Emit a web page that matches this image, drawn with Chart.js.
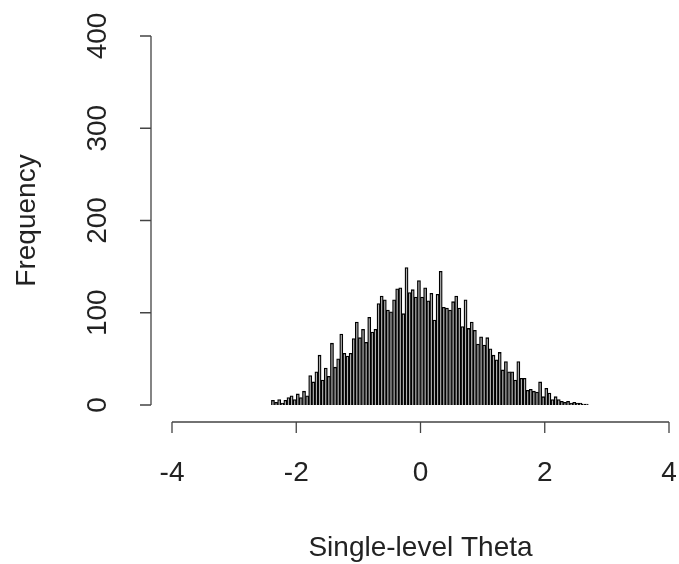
<!DOCTYPE html>
<html><head><meta charset="utf-8">
<script src="https://cdn.jsdelivr.net/npm/chart.js@4"></script>
<style>html,body{margin:0;padding:0;background:#fff}#wrap{width:679px;height:564px;position:relative}</style>
</head><body><div id="wrap"><canvas id="c" width="679" height="564"></canvas></div>
<script>
const binStart = -2.4;
const binWidth = 0.05;
const counts = [5,3,6,2,5,8,10,6,12,8,15,10,
32,25,36,54,27,40,31,67,41,50,77,56,53,56,72,90,
73,82,68,95,79,82,110,118,114,103,101,114,126,127,99,149,
122,125,117,135,117,127,113,121,92,120,145,106,105,103,
112,118,105,85,114,83,90,81,66,74,65,73,61,54,49,
57,38,47,36,36,27,47,29,29,16,17,15,14,25,
9,18,13,6,9,6,4,3,4,2,3,2,2,1,1];
const xTicks = [-4,-2,0,2,4];
const yTicks = [0,100,200,300,400];
const xTitle = "Single-level Theta";
const yTitle = "Frequency";

const points = counts.map((c,i)=>({x: binStart + binWidth*(i+0.5), y: c}));

const FONT = '28px "Liberation Sans", Arial, sans-serif';
const INK = '#222';
const rAxes = {
  id:'rAxes',
  afterDraw(chart){
    const ctx = chart.ctx, xs = chart.scales.x, ys = chart.scales.y;
    ctx.save();
    ctx.strokeStyle = '#444'; ctx.lineWidth = 1.3;
    ctx.fillStyle = INK; ctx.font = FONT;
    const ax = ys.bottom + 17;
    ctx.beginPath();
    ctx.moveTo(xs.getPixelForValue(xTicks[0]), ax);
    ctx.lineTo(xs.getPixelForValue(xTicks[xTicks.length-1]), ax);
    xTicks.forEach(t=>{const p=xs.getPixelForValue(t); ctx.moveTo(p,ax); ctx.lineTo(p,ax+11);});
    ctx.stroke();
    ctx.textAlign='center'; ctx.textBaseline='middle';
    xTicks.forEach(t=>{ctx.fillText(String(t), xs.getPixelForValue(t), ax+51);});
    const ay = xs.left - 21;
    ctx.beginPath();
    ctx.moveTo(ay, ys.getPixelForValue(yTicks[0]));
    ctx.lineTo(ay, ys.getPixelForValue(yTicks[yTicks.length-1]));
    yTicks.forEach(t=>{const p=ys.getPixelForValue(t); ctx.moveTo(ay,p); ctx.lineTo(ay-11,p);});
    ctx.stroke();
    yTicks.forEach(t=>{
      ctx.save(); ctx.translate(ay-53, ys.getPixelForValue(t)); ctx.rotate(-Math.PI/2);
      ctx.fillText(String(t),0,0); ctx.restore();
    });
    ctx.fillText(xTitle, (xs.left+xs.right)/2, 548);
    ctx.save(); ctx.translate(27, (ys.top+ys.bottom)/2); ctx.rotate(-Math.PI/2);
    ctx.fillText(yTitle,0,0); ctx.restore();
    ctx.restore();
  }
};

new Chart(document.getElementById('c'), {
  type:'bar',
  data:{datasets:[{data:points, backgroundColor:'#b0b0b0', borderColor:'#000', borderWidth:1.3,
    barPercentage:1, categoryPercentage:1}]},
  options:{
    responsive:false, animation:false,
    layout:{padding:{left:172, right:10, top:36, bottom:159}},
    plugins:{legend:{display:false}, tooltip:{enabled:false}},
    scales:{
      x:{type:'linear', min:-4, max:4, offset:false, display:false},
      y:{min:0, max:400, display:false}
    }
  },
  plugins:[rAxes]
});
</script></body></html>
